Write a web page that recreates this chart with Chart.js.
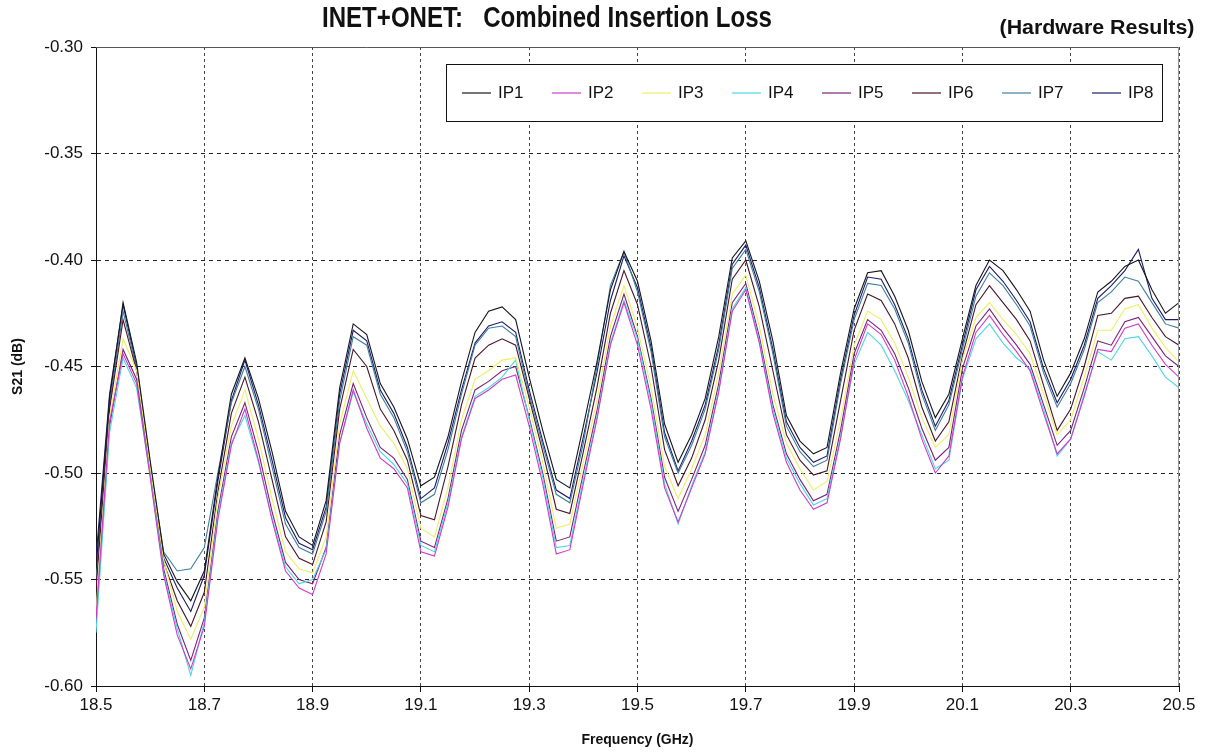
<!DOCTYPE html>
<html>
<head>
<meta charset="utf-8">
<script src="https://cdn.jsdelivr.net/npm/chart.js@4.4.1/dist/chart.umd.min.js"></script>
<style>
    html, body { margin: 0; padding: 0; background: #fff; }
</style>
</head>
<body>
<canvas id="lossChart" width="1206" height="755"></canvas>
<script>
/* ====== DATA ====== */
const freq = [
    18.5, 18.525, 18.55, 18.575, 18.6, 18.625, 18.65, 18.675, 18.7, 18.725, 18.75, 18.775, 18.8, 18.825, 18.85, 18.875, 18.9, 18.925, 18.95, 18.975,
    19, 19.025, 19.05, 19.075, 19.1, 19.125, 19.15, 19.175, 19.2, 19.225, 19.25, 19.275, 19.3, 19.325, 19.35, 19.375, 19.4, 19.425, 19.45, 19.475,
    19.5, 19.525, 19.55, 19.575, 19.6, 19.625, 19.65, 19.675, 19.7, 19.725, 19.75, 19.775, 19.8, 19.825, 19.85, 19.875, 19.9, 19.925, 19.95, 19.975,
    20, 20.025, 20.05, 20.075, 20.1, 20.125, 20.15, 20.175, 20.2, 20.225, 20.25, 20.275, 20.3, 20.325, 20.35, 20.375, 20.4, 20.425, 20.45, 20.475, 20.5
];

const ip1 = [
    -0.545,-0.465,-0.420,-0.448,-0.494,-0.538,-0.551,-0.560,-0.546,-0.502,-0.463,-0.446,-0.465,-0.490,-0.518,-0.530,-0.534,-0.513,-0.460,-0.430,
    -0.435,-0.458,-0.469,-0.484,-0.506,-0.502,-0.483,-0.457,-0.434,-0.424,-0.422,-0.428,-0.455,-0.480,-0.503,-0.507,-0.478,-0.448,-0.414,-0.396,
    -0.410,-0.438,-0.477,-0.495,-0.482,-0.465,-0.436,-0.399,-0.391,-0.410,-0.438,-0.473,-0.485,-0.491,-0.488,-0.453,-0.423,-0.406,-0.405,-0.417,
    -0.433,-0.457,-0.474,-0.463,-0.437,-0.412,-0.400,-0.405,-0.414,-0.424,-0.447,-0.464,-0.453,-0.437,-0.415,-0.410,-0.403,-0.400,-0.414,-0.425,-0.420
];
const ip2 = [
    -0.568,-0.476,-0.444,-0.458,-0.502,-0.548,-0.576,-0.592,-0.572,-0.522,-0.487,-0.470,-0.494,-0.522,-0.546,-0.554,-0.557,-0.538,-0.486,-0.461,
    -0.479,-0.493,-0.498,-0.507,-0.537,-0.539,-0.516,-0.484,-0.465,-0.461,-0.456,-0.454,-0.478,-0.505,-0.538,-0.536,-0.505,-0.475,-0.440,-0.420,
    -0.440,-0.470,-0.507,-0.523,-0.507,-0.491,-0.462,-0.424,-0.414,-0.439,-0.472,-0.495,-0.508,-0.517,-0.514,-0.484,-0.447,-0.430,-0.435,-0.447,
    -0.464,-0.484,-0.500,-0.492,-0.455,-0.434,-0.426,-0.435,-0.443,-0.452,-0.472,-0.491,-0.484,-0.464,-0.442,-0.443,-0.432,-0.430,-0.440,-0.449,-0.455
];
const ip3 = [
    -0.565,-0.474,-0.437,-0.452,-0.497,-0.541,-0.565,-0.578,-0.563,-0.512,-0.478,-0.461,-0.484,-0.512,-0.537,-0.545,-0.547,-0.530,-0.477,-0.452,
    -0.465,-0.478,-0.486,-0.498,-0.526,-0.530,-0.507,-0.475,-0.456,-0.452,-0.447,-0.446,-0.469,-0.495,-0.526,-0.524,-0.495,-0.466,-0.431,-0.412,
    -0.432,-0.460,-0.497,-0.512,-0.498,-0.482,-0.453,-0.416,-0.407,-0.431,-0.463,-0.486,-0.498,-0.508,-0.504,-0.475,-0.440,-0.424,-0.428,-0.439,
    -0.455,-0.474,-0.488,-0.482,-0.447,-0.427,-0.420,-0.428,-0.435,-0.444,-0.463,-0.482,-0.475,-0.455,-0.433,-0.433,-0.423,-0.421,-0.432,-0.441,-0.448
];
const ip4 = [
    -0.575,-0.481,-0.446,-0.460,-0.501,-0.547,-0.573,-0.595,-0.570,-0.520,-0.486,-0.473,-0.495,-0.521,-0.544,-0.552,-0.550,-0.536,-0.486,-0.462,
    -0.477,-0.490,-0.496,-0.505,-0.534,-0.537,-0.514,-0.483,-0.464,-0.460,-0.455,-0.447,-0.475,-0.502,-0.535,-0.534,-0.503,-0.474,-0.439,-0.419,
    -0.437,-0.467,-0.505,-0.524,-0.506,-0.490,-0.461,-0.423,-0.413,-0.438,-0.470,-0.493,-0.505,-0.515,-0.512,-0.483,-0.449,-0.434,-0.440,-0.452,
    -0.466,-0.482,-0.498,-0.494,-0.456,-0.437,-0.430,-0.439,-0.446,-0.451,-0.470,-0.492,-0.484,-0.463,-0.443,-0.447,-0.437,-0.436,-0.445,-0.455,-0.460
];
const ip5 = [
    -0.570,-0.478,-0.442,-0.456,-0.500,-0.545,-0.571,-0.588,-0.568,-0.518,-0.483,-0.467,-0.490,-0.518,-0.542,-0.550,-0.552,-0.535,-0.482,-0.458,
    -0.474,-0.488,-0.493,-0.503,-0.532,-0.535,-0.512,-0.480,-0.461,-0.457,-0.452,-0.450,-0.474,-0.500,-0.532,-0.530,-0.500,-0.471,-0.436,-0.416,
    -0.436,-0.465,-0.502,-0.518,-0.503,-0.487,-0.458,-0.420,-0.411,-0.436,-0.468,-0.491,-0.503,-0.513,-0.510,-0.480,-0.444,-0.428,-0.433,-0.444,
    -0.460,-0.479,-0.494,-0.488,-0.451,-0.431,-0.423,-0.432,-0.440,-0.449,-0.468,-0.487,-0.480,-0.460,-0.438,-0.440,-0.429,-0.427,-0.436,-0.445,-0.450
];
const ip6 = [
    -0.555,-0.470,-0.428,-0.452,-0.497,-0.542,-0.560,-0.572,-0.556,-0.509,-0.472,-0.455,-0.476,-0.503,-0.530,-0.540,-0.543,-0.523,-0.470,-0.442,
    -0.450,-0.470,-0.480,-0.494,-0.520,-0.522,-0.497,-0.468,-0.446,-0.440,-0.437,-0.440,-0.465,-0.490,-0.517,-0.519,-0.490,-0.460,-0.425,-0.405,
    -0.421,-0.450,-0.489,-0.506,-0.493,-0.475,-0.447,-0.409,-0.400,-0.422,-0.452,-0.482,-0.494,-0.501,-0.499,-0.466,-0.433,-0.416,-0.419,-0.430,
    -0.446,-0.469,-0.485,-0.476,-0.445,-0.421,-0.412,-0.420,-0.428,-0.438,-0.459,-0.480,-0.470,-0.450,-0.426,-0.425,-0.418,-0.417,-0.427,-0.436,-0.440
];
const ip7 = [
    -0.550,-0.468,-0.424,-0.451,-0.497,-0.537,-0.546,-0.545,-0.535,-0.500,-0.467,-0.450,-0.470,-0.497,-0.524,-0.535,-0.538,-0.518,-0.466,-0.436,
    -0.440,-0.463,-0.474,-0.490,-0.514,-0.510,-0.489,-0.463,-0.440,-0.432,-0.431,-0.436,-0.463,-0.487,-0.510,-0.514,-0.486,-0.450,-0.412,-0.396,
    -0.415,-0.443,-0.483,-0.500,-0.487,-0.470,-0.442,-0.404,-0.395,-0.415,-0.444,-0.478,-0.490,-0.497,-0.494,-0.458,-0.428,-0.411,-0.412,-0.423,
    -0.439,-0.463,-0.480,-0.468,-0.442,-0.417,-0.406,-0.412,-0.421,-0.431,-0.453,-0.469,-0.458,-0.442,-0.420,-0.415,-0.408,-0.410,-0.420,-0.430,-0.432
];
const ip8 = [
    -0.540,-0.463,-0.421,-0.450,-0.496,-0.540,-0.554,-0.565,-0.548,-0.504,-0.466,-0.447,-0.468,-0.494,-0.521,-0.533,-0.536,-0.516,-0.463,-0.433,
    -0.438,-0.461,-0.472,-0.488,-0.512,-0.507,-0.486,-0.461,-0.439,-0.431,-0.429,-0.434,-0.461,-0.485,-0.508,-0.512,-0.483,-0.453,-0.419,-0.398,
    -0.413,-0.441,-0.481,-0.499,-0.485,-0.468,-0.440,-0.402,-0.393,-0.413,-0.442,-0.476,-0.488,-0.495,-0.492,-0.456,-0.426,-0.408,-0.409,-0.421,
    -0.437,-0.461,-0.478,-0.466,-0.440,-0.414,-0.403,-0.410,-0.419,-0.429,-0.451,-0.467,-0.456,-0.440,-0.418,-0.412,-0.405,-0.395,-0.418,-0.428,-0.428
];

const seriesNames = ["IP1", "IP2", "IP3", "IP4", "IP5", "IP6", "IP7", "IP8"];
const seriesValues = [ip1, ip2, ip3, ip4, ip5, ip6, ip7, ip8];
const seriesColors = ["#15151f", "#cc3ccc", "#eeee66", "#4fd6e2", "#7a2278", "#4a1428", "#3f7f9c", "#1b1b6a"];

const xTicks = [18.5, 18.7, 18.9, 19.1, 19.3, 19.5, 19.7, 19.9, 20.1, 20.3, 20.5];
const yTicks = [-0.30, -0.35, -0.40, -0.45, -0.50, -0.55, -0.60];

const FONT = "'Liberation Sans', Arial, sans-serif";
Chart.defaults.font.family = FONT;

/* ====== TITLES, LEGEND, FRAME ====== */
function fitText(ctx, text, font, cx, cy, width) {
    ctx.save();
    ctx.font = font;
    ctx.textAlign = "center";
    ctx.textBaseline = "middle";
    const w = ctx.measureText(text).width;
    ctx.translate(cx, cy);
    ctx.scale(width / w, 1);
    ctx.fillStyle = "#111";
    ctx.fillText(text, 0, 0);
    ctx.restore();
}

const decor = {
    id: "decor",
    afterDraw(chart) {
        const { ctx, chartArea: a } = chart;
        ctx.save();

        // top and right frame
        ctx.lineWidth = 1;
        ctx.strokeStyle = "#555";
        ctx.beginPath();
        ctx.moveTo(a.left, Math.round(a.top) + 0.5);
        ctx.lineTo(a.right, Math.round(a.top) + 0.5);
        ctx.stroke();
        ctx.strokeStyle = "#999";
        ctx.beginPath();
        ctx.moveTo(Math.round(a.right) - 0.5, a.top);
        ctx.lineTo(Math.round(a.right) - 0.5, a.bottom);
        ctx.stroke();

        // legend box
        const bx = 446, by = 64, bw = 716, bh = 57;
        ctx.fillStyle = "#fff";
        ctx.fillRect(bx, by, bw, bh);
        ctx.strokeStyle = "#111";
        ctx.strokeRect(bx + 0.5, by + 0.5, bw, bh);
        ctx.font = "17px " + FONT;
        ctx.textBaseline = "middle";
        ctx.textAlign = "left";
        seriesNames.forEach((name, i) => {
            const lx = 462 + 90 * i;
            const ly = by + bh / 2 + 0.5;
            ctx.strokeStyle = seriesColors[i];
            ctx.lineWidth = 1.2;
            ctx.beginPath();
            ctx.moveTo(lx, ly);
            ctx.lineTo(lx + 29, ly);
            ctx.stroke();
            ctx.fillStyle = "#111";
            ctx.fillText(name, lx + 36, ly);
        });

        // chart title
        fitText(ctx, "INET+ONET:   Combined Insertion Loss", "bold 29px " + FONT, 547, 19, 450);
        fitText(ctx, "(Hardware Results)", "bold 20px " + FONT, 1097, 28, 195);
        ctx.restore();
    }
};

/* ====== CHART ====== */
new Chart(document.getElementById("lossChart"), {
    type: "line",
    data: {
        datasets: seriesNames.map((name, i) => ({
            label: name,
            data: freq.map((f, k) => ({ x: f, y: seriesValues[i][k] })),
            borderColor: seriesColors[i],
            borderWidth: 1.1,
            pointRadius: 0,
            tension: 0,
            fill: false
        }))
    },
    options: {
        responsive: false,
        animation: false,
        devicePixelRatio: 1,
        layout: { padding: { left: 4, right: 27, top: 47, bottom: 0 } },
        plugins: {
            legend: { display: false },
            title: { display: false },
            tooltip: { enabled: false }
        },
        scales: {
            x: {
                type: "linear",
                min: 18.5,
                max: 20.5,
                afterBuildTicks: s => { s.ticks = xTicks.map(v => ({ value: v })); },
                afterFit: s => { s.height = 69; },
                ticks: {
                    callback: v => v.toFixed(1),
                    font: { size: 17 },
                    color: "#111",
                    padding: 3,
                    maxRotation: 0,
                    autoSkip: false
                },
                grid: { color: "#444", lineWidth: 1, tickLength: 6, tickColor: "#111" },
                border: { color: "#111", width: 1, dash: [3, 3] },
                title: {
                    display: true,
                    text: "Frequency (GHz)",
                    color: "#111",
                    font: { size: 14, weight: "bold" },
                    padding: { top: 0, bottom: 6 }
                }
            },
            y: {
                min: -0.6,
                max: -0.3,
                afterBuildTicks: s => { s.ticks = yTicks.map(v => ({ value: v })); },
                afterFit: s => { s.width = 92; },
                ticks: {
                    callback: v => v.toFixed(2),
                    font: { size: 17 },
                    color: "#111",
                    padding: 8
                },
                grid: { color: "#222", lineWidth: 1, tickLength: 5, tickColor: "#111" },
                border: { color: "#111", width: 1, dash: [4, 4] },
                title: {
                    display: true,
                    text: "S21 (dB)",
                    color: "#111",
                    font: { size: 14, weight: "bold" },
                    padding: { top: 6, bottom: 0 }
                }
            }
        }
    },
    plugins: [decor]
});
</script>
</body>
</html>
